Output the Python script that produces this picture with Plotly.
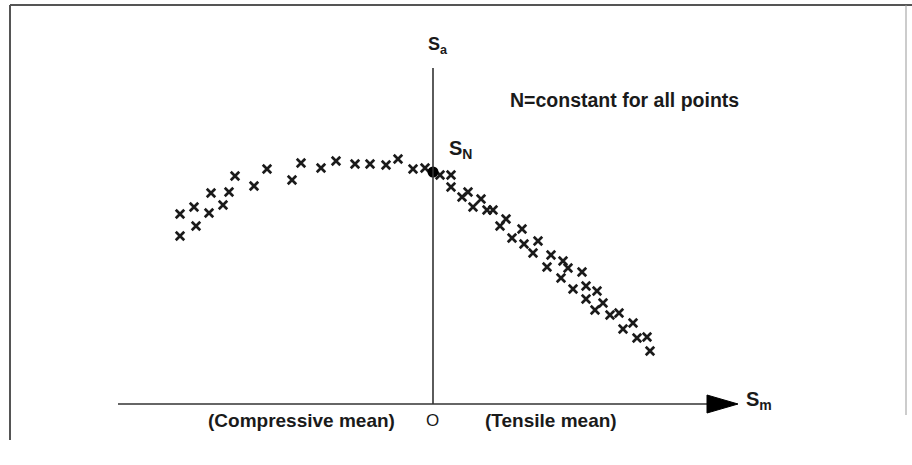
import plotly.graph_objects as go

# Fatigue test results at constant life N: alternating stress Sa vs mean stress Sm
# Compressive-mean side (Sm < 0)
sm_compressive = [-101.2, -101.2, -95.6, -94.8, -89.6, -88.8, -84.0, -81.6, -79.2, -71.6,
                  -66.4, -56.4, -52.8, -44.8, -38.8, -31.2, -25.2, -18.8, -14.0, -8.0, -3.2]
sa_compressive = [76.0, 67.2, 78.8, 71.2, 76.4, 84.4, 79.6, 84.8, 91.2, 87.2,
                  94.0, 89.6, 96.4, 94.4, 97.2, 96.0, 96.0, 95.6, 98.0, 94.0, 94.4]

# Tensile-mean side (Sm > 0)
sm_tensile = [2.8, 7.2, 7.2, 11.6, 14.0, 16.0, 19.2, 21.6, 24.0, 26.8, 29.2, 31.6, 35.6,
              36.4, 42.0, 40.0, 47.2, 45.6, 52.0, 54.0, 51.2, 59.6, 56.0, 61.2, 65.6,
              61.2, 68.0, 64.8, 70.8, 74.4, 80.0, 76.0, 81.6, 85.6, 86.8]
sa_tensile = [91.6, 91.6, 86.8, 82.8, 84.8, 78.8, 82.0, 77.6, 77.6, 71.2, 74.0, 66.4, 70.0,
              64.0, 65.2, 60.4, 59.6, 54.8, 57.2, 54.4, 50.4, 52.8, 46.0, 47.2, 45.2,
              42.0, 40.4, 37.6, 35.6, 36.4, 32.4, 30.0, 26.4, 26.8, 21.2]

# Fully reversed fatigue strength S_N (Sm = 0)
sn_point = (0.0, 92.8)

# Axis extents
sm_axis_start, sm_axis_end = -126.0, 109.6
sa_axis_top = 134.4

FONT = "Liberation Sans, Arial, sans-serif"
INK = "#1a1a1a"

fig = go.Figure()

cross = dict(symbol="x-thin", size=8.5, color=INK, line=dict(width=2.7, color=INK))
fig.add_trace(go.Scatter(x=sm_compressive, y=sa_compressive, mode="markers",
                         marker=cross, showlegend=False, hoverinfo="skip"))
fig.add_trace(go.Scatter(x=sm_tensile, y=sa_tensile, mode="markers",
                         marker=cross, showlegend=False, hoverinfo="skip"))
fig.add_trace(go.Scatter(x=[sn_point[0]], y=[sn_point[1]], mode="markers",
                         marker=dict(symbol="circle", size=11, color="#000000"),
                         showlegend=False, hoverinfo="skip"))

# Sm axis with arrow head, Sa axis
fig.add_shape(type="line", x0=sm_axis_start, x1=sm_axis_end, y0=0, y1=0,
              line=dict(color="#333333", width=1.6))
fig.add_shape(type="path",
              path=f"M {sm_axis_end},3.6 L 122,0 L {sm_axis_end},-3.6 Z",
              fillcolor="#000000", line=dict(color="#000000", width=1))
fig.add_shape(type="line", x0=0, x1=0, y0=0, y1=sa_axis_top,
              line=dict(color="#333333", width=1.6))

# Frame
frame = dict(color="#555555", width=2)
fig.add_shape(type="line", xref="paper", yref="paper", x0=10/912, x1=1, y0=1-5/465, y1=1-5/465, line=frame)
fig.add_shape(type="line", xref="paper", yref="paper", x0=10/912, x1=10/912, y0=1-5/465, y1=1-440/465, line=frame)
fig.add_shape(type="line", xref="paper", yref="paper", x0=906/912, x1=906/912, y0=1-5/465, y1=1-415/465,
              line=dict(color="#999999", width=1))

def label(text, x, y, size, bold=True, xanchor="center"):
    t = f"<b>{text}</b>" if bold else text
    fig.add_annotation(x=x, y=y, text=t, showarrow=False, xanchor=xanchor, yanchor="middle",
                       font=dict(family=FONT, size=size, color=INK))

label("N=constant for all points", 76.4, 121.6, 19.5)
label("(Compressive mean)", -52.8, -6.4, 19)
label("O", -0.4, -6.4, 17, bold=False)
label("(Tensile mean)", 47.2, -6.4, 19)
label("S<sub>a</sub>", -2.8, 143.6, 18, xanchor="left")
label("S<sub>N</sub>", 5.6, 102.0, 20, xanchor="left")
label("S<sub>m</sub>", 124.4, 1.6, 20, xanchor="left")

fig.update_layout(
    width=912, height=465,
    margin=dict(l=0, r=0, t=0, b=0),
    paper_bgcolor="white", plot_bgcolor="white",
    xaxis=dict(range=[-173.2, 191.6], visible=False, fixedrange=True),
    yaxis=dict(range=[-24.4, 161.6], visible=False, fixedrange=True),
)

fig.write_html("out.html")
